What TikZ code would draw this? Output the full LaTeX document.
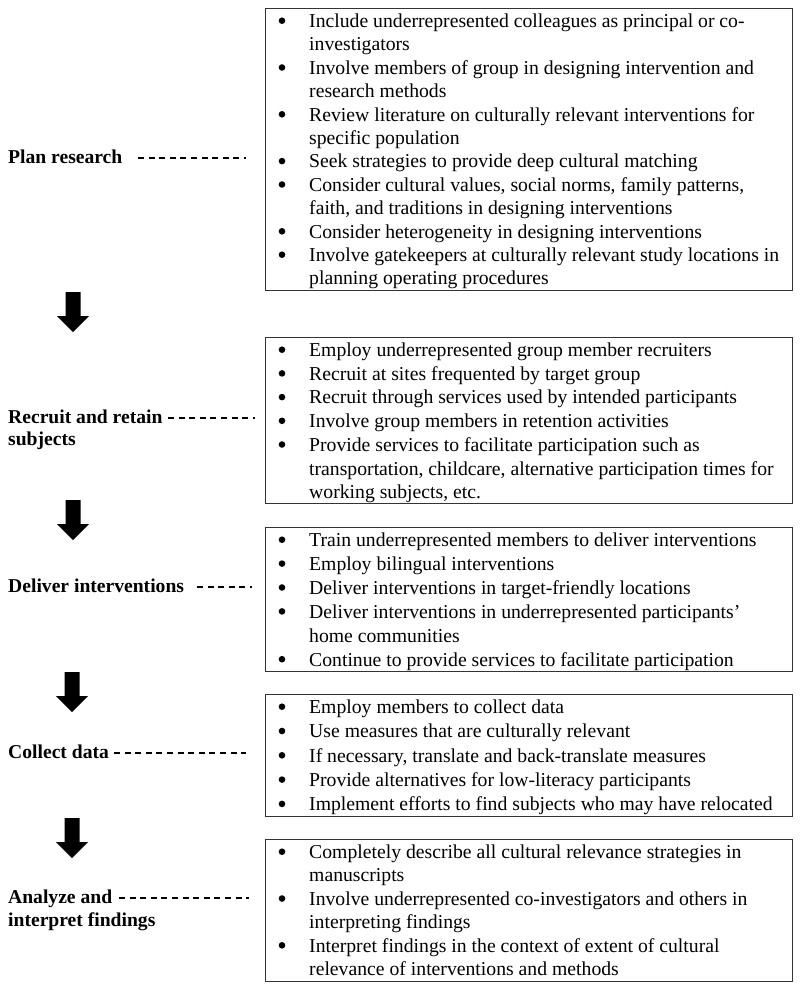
\documentclass[tikz,border=0pt]{standalone}
\usepackage{fontspec}
\setmainfont{Liberation Serif}
% #1 prefix, #2 first baseline, #3 line step, #4 list of bullet-flag/text
\newcommand\itemlines[4]{%
  \foreach [count=\i from 0] \isb/\mytext in {#4} {
    \node[itemtxt] (#1-\i) at (309,#2+#3*\i) {\mytext};
    \ifnum\isb=1 \node[bul] (#1-b\i) at (282,#2+#3*\i-6.8) {};\fi
  }}
\newcommand\flowarrow[2]{%
  \fill[black] (#1-7.5,#2) -- (#1+7.5,#2) -- (#1+7.5,#2+24) -- (#1+16,#2+24)
    -- (#1,#2+40) -- (#1-16,#2+24) -- (#1-7.5,#2+24) -- cycle;}
\begin{document}
\begin{tikzpicture}[x=1pt,y=-1pt,
  boxframe/.style={draw=black!80, line width=1pt, inner sep=0pt, outer sep=0pt, anchor=north west},
  itemtxt/.style={anchor=base west, inner sep=0pt, font=\fontsize{19.7}{23}\selectfont},
  bul/.style={circle, fill=black, inner sep=0pt, minimum size=6.6pt},
  steplabel/.style={anchor=base west, inner sep=0pt, align=left, font=\bfseries\fontsize{19.6}{22.5}\selectfont},
  link/.style={dash pattern=on 6pt off 4.6pt, line width=1.8pt}]
\useasboundingbox (0,0) rectangle (800,989);
% boxes
\node[boxframe, minimum width=527pt, minimum height=282pt] (box1) at (265,8) {};
\node[boxframe, minimum width=527pt, minimum height=166pt] (box2) at (265,337) {};
\node[boxframe, minimum width=527pt, minimum height=144pt] (box3) at (265,527) {};
\node[boxframe, minimum width=527pt, minimum height=122pt] (box4) at (265,694) {};
\node[boxframe, minimum width=527pt, minimum height=142pt] (box5) at (265,839) {};
% box texts
\itemlines{t1}{27.5}{23.4}{1/{Include underrepresented colleagues as principal or co-},
  0/{investigators},
  1/{Involve members of group in designing intervention and},
  0/{research methods},
  1/{Review literature on culturally relevant interventions for},
  0/{specific population},
  1/{Seek strategies to provide deep cultural matching},
  1/{Consider cultural values, social norms, family patterns,},
  0/{faith, and traditions in designing interventions},
  1/{Consider heterogeneity in designing interventions},
  1/{Involve gatekeepers at culturally relevant study locations in},
  0/{planning operating procedures}}
\itemlines{t2}{356.5}{23.7}{1/{Employ underrepresented group member recruiters},
  1/{Recruit at sites frequented by target group},
  1/{Recruit through services used by intended participants},
  1/{Involve group members in retention activities},
  1/{Provide services to facilitate participation such as},
  0/{transportation, childcare, alternative participation times for},
  0/{working subjects, etc.}}
\itemlines{t3}{546.5}{23.9}{1/{Train underrepresented members to deliver interventions},
  1/{Employ bilingual interventions},
  1/{Deliver interventions in target-friendly locations},
  1/{Deliver interventions in underrepresented participants’},
  0/{home communities},
  1/{Continue to provide services to facilitate participation}}
\itemlines{t4}{713.5}{24.3}{1/{Employ members to collect data},
  1/{Use measures that are culturally relevant},
  1/{If necessary, translate and back-translate measures},
  1/{Provide alternatives for low-literacy participants},
  1/{Implement efforts to find subjects who may have relocated}}
\itemlines{t5}{858.5}{23.4}{1/{Completely describe all cultural relevance strategies in},
  0/{manuscripts},
  1/{Involve underrepresented co-investigators and others in},
  0/{interpreting findings},
  1/{Interpret findings in the context of extent of cultural},
  0/{relevance of interventions and methods}}
% step labels
\node[steplabel] (s1) at (8,163) {Plan research};
\node[steplabel] (s2) at (8,423) {Recruit and retain};
\node[steplabel] (s2b) at (8,445.5) {subjects};
\node[steplabel] (s3) at (8,592) {Deliver interventions};
\node[steplabel] (s4) at (8,758) {Collect data};
\node[steplabel] (s5) at (8,903) {Analyze and};
\node[steplabel] (s5b) at (8,926) {interpret findings};
% dashed leaders
\coordinate (d1a) at (138,158); \coordinate (d1b) at (246,158);
\coordinate (d2a) at (168,418); \coordinate (d2b) at (255,418);
\coordinate (d3a) at (197,587); \coordinate (d3b) at (252,587);
\coordinate (d4a) at (114,753); \coordinate (d4b) at (246,753);
\coordinate (d5a) at (119,898); \coordinate (d5b) at (249,898);
\draw[link] (d1a) -- (d1b);
\draw[link] (d2a) -- (d2b);
\draw[link] (d3a) -- (d3b);
\draw[link] (d4a) -- (d4b);
\draw[link] (d5a) -- (d5b);
% block arrows
\flowarrow{73}{292}
\flowarrow{73}{500}
\flowarrow{72}{672}
\flowarrow{72}{818}
\end{tikzpicture}
\end{document}
